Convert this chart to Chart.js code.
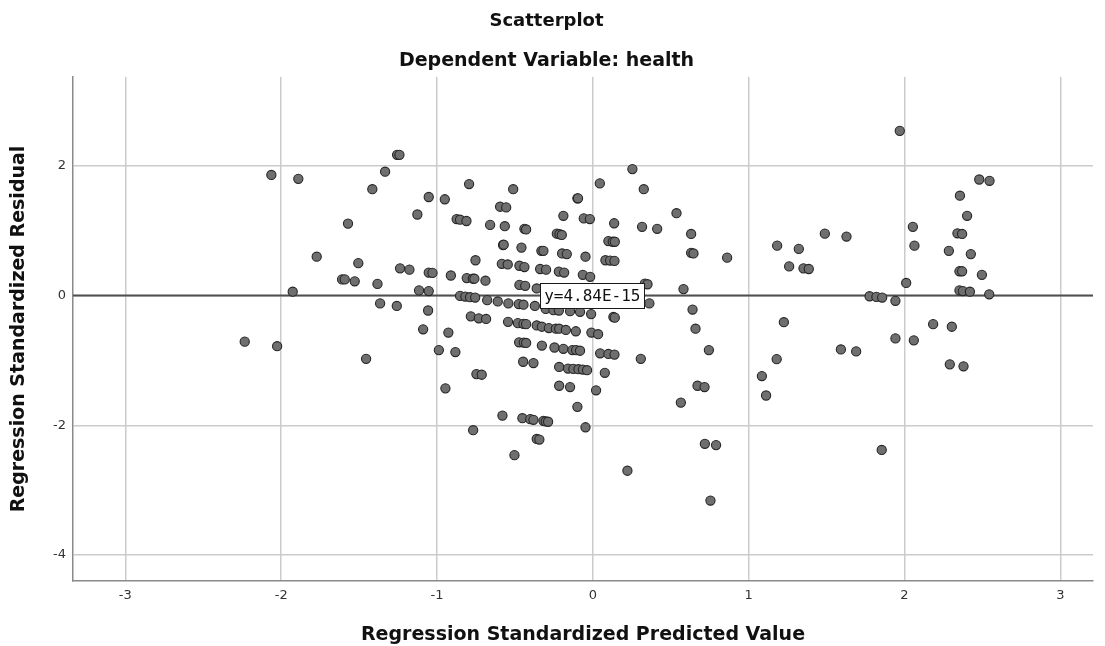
<!DOCTYPE html>
<html>
<head>
<meta charset="utf-8">
<script src="https://cdn.jsdelivr.net/npm/chart.js@4.4.1/dist/chart.umd.min.js"></script>
<style>
  html, body { margin: 0; padding: 0; background: #ffffff; }
  #wrap { width: 1105px; height: 646px; }
</style>
</head>
<body>
<div id="wrap"><canvas id="chart" width="1105" height="646"></canvas></div>
<script>
// Standardized predicted values (x) and standardized residuals (y), one entry per case
const predicted = [
  -2.063, -1.890, -1.415, -1.333, -1.256, -1.241, -1.571, -1.772, -1.505, -1.609,
  -1.592, -1.528, -1.382, -1.237, -1.177, -1.926, -1.365, -1.258, -2.234, -2.026,
  -1.455, -0.794, -0.511, -1.053, -0.950, -1.126, -0.595, -0.556, -0.099, -0.095,
   0.045, -0.874, -0.852, -0.811, -0.659, -0.565, -0.189, -0.058, -0.019, -0.439,
  -0.428, -0.231, -0.214, -0.199, -0.576, -0.572, -0.458, -0.330, -0.317, -0.197,
  -0.167, -0.047, -0.753, -1.053, -1.029, -0.911, -0.809, -0.770, -0.760, -0.689,
  -0.584, -0.546, -0.471, -0.439, -0.338, -0.300, -0.218, -0.184, -0.064, -0.017,
  -1.115, -1.053, -0.471, -0.434, -0.360,  0.254,  0.327,  0.137,  0.316,  0.413,
   0.537,  0.631,  0.100,  0.128,  0.141,  0.631,  0.646,  0.862,  1.183,  1.260,
   0.081,  0.111,  0.139,  0.334,  0.351,  0.582,  1.970,  2.480,  2.546,  2.356,
   2.402,  1.489,  1.628,  2.054,  2.340,  2.370,  2.064,  2.285,  2.426,  1.322,
   1.352,  1.386,  2.353,  2.370,  2.497,  2.011,  2.353,  2.375,  2.420,  2.544,
   1.776,  1.820,  1.857,  1.942,  1.226,  2.184,  2.304,  1.942,  2.060,  1.592,
   1.690,  2.291,  2.379,  1.180,  1.854,  0.363, -0.011,  0.132,  0.141,  0.640,
   0.659, -0.009,  0.034,  0.047,  0.100,  0.139,  0.308,  0.745,  1.085,  1.112,
   0.077,  0.021,  0.672,  0.717,  0.565,  0.719,  0.791,  0.222,  0.755, -0.099,
  -0.047, -0.503, -0.360, -0.343, -0.452, -0.402, -0.381, -0.317, -0.302, -0.287,
  -0.580, -0.768, -0.852, -0.818, -0.788, -0.755, -0.678, -0.610, -0.542, -0.475,
  -0.445, -0.372, -0.302, -0.253, -0.218, -0.146, -0.082, -1.057, -0.783, -0.732,
  -0.685, -0.544, -0.481, -0.445, -0.428, -0.360, -0.327, -0.282, -0.237, -0.216,
  -0.173, -0.109, -1.089, -0.927, -0.473, -0.443, -0.428, -0.327, -0.246, -0.189,
  -0.131, -0.107, -0.082, -0.988, -0.882, -0.447, -0.381, -0.216, -0.159, -0.125,
  -0.092, -0.064, -0.037, -0.747, -0.713, -0.946, -0.216, -0.146
];
const residual = [
   1.860,  1.800,  1.640,  1.910,  2.170,  2.170,  1.110,  0.600,  0.500,  0.250,
   0.250,  0.220,  0.180,  0.420,  0.400,  0.060, -0.120, -0.160, -0.710, -0.780,
  -0.975,  1.720,  1.640,  1.520,  1.485,  1.250,  1.370,  1.360,  1.500,  1.500,
   1.730,  1.180,  1.170,  1.150,  1.090,  1.070,  1.230,  1.190,  1.180,  1.030,
   1.020,  0.955,  0.946,  0.935,  0.780,  0.785,  0.740,  0.690,  0.690,  0.650,
   0.640,  0.600,  0.545,  0.355,  0.350,  0.310,  0.270,  0.260,  0.260,  0.230,
   0.490,  0.480,  0.460,  0.440,  0.410,  0.400,  0.370,  0.355,  0.320,  0.290,
   0.080,  0.070,  0.165,  0.150,  0.110,  1.950,  1.640,  1.115,  1.060,  1.030,
   1.270,  0.950,  0.840,  0.830,  0.830,  0.660,  0.650,  0.585,  0.770,  0.450,
   0.545,  0.540,  0.535,  0.185,  0.175,  0.100,  2.540,  1.790,  1.770,  1.540,
   1.230,  0.955,  0.910,  1.060,  0.960,  0.950,  0.770,  0.690,  0.640,  0.720,
   0.420,  0.410,  0.375,  0.375,  0.320,  0.195,  0.080,  0.070,  0.060,  0.020,
  -0.010, -0.020, -0.030, -0.080, -0.410, -0.440, -0.480, -0.660, -0.690, -0.830,
  -0.860, -1.060, -1.090, -0.980, -2.380, -0.120, -0.285, -0.330, -0.340, -0.215,
  -0.510, -0.570, -0.595, -0.890, -0.900, -0.910, -0.975, -0.840, -1.240, -1.540,
  -1.190, -1.460, -1.390, -1.410, -1.650, -2.285, -2.305, -2.700, -3.160, -1.715,
  -2.030, -2.460, -2.210, -2.220, -1.890, -1.905, -1.915, -1.930, -1.940, -1.945,
  -1.850, -2.075, -0.005, -0.015, -0.025, -0.030, -0.070, -0.090, -0.120, -0.130,
  -0.140, -0.160, -0.205, -0.225, -0.230, -0.240, -0.250, -0.230, -0.320, -0.350,
  -0.360, -0.405, -0.425, -0.435, -0.440, -0.460, -0.480, -0.500, -0.510, -0.510,
  -0.530, -0.550, -0.520, -0.570, -0.720, -0.725, -0.730, -0.770, -0.800, -0.820,
  -0.840, -0.840, -0.850, -0.840, -0.870, -1.020, -1.040, -1.100, -1.125, -1.130,
  -1.135, -1.140, -1.150, -1.210, -1.220, -1.430, -1.390, -1.410
];

// Axis tick values
const xTicks = [-3, -2, -1, 0, 1, 2, 3];
const yTicks = [-4, -2, 0, 2];

// Axis extents
const xRange = [-3.336, 3.21];
const yRange = [-4.40, 3.37];

// Fit line (intercept-only) and its label
const fitIntercept = 4.84e-15;
const fitLabel = 'y=4.84E-15';
const fitLabelAt = -0.338;

const points = predicted.map((x, i) => ({ x: x, y: residual[i] }));

// Boxed equation label sitting on the fit line
const fitLabelPlugin = {
  id: 'fitLabel',
  afterDatasetsDraw(chart) {
    const ctx = chart.ctx;
    const px = chart.scales.x.getPixelForValue(fitLabelAt);
    const py = chart.scales.y.getPixelForValue(fitIntercept);
    ctx.save();
    ctx.font = '16px "DejaVu Sans Mono"';
    const w = ctx.measureText(fitLabel).width + 8;
    const h = 25;
    ctx.fillStyle = '#ffffff';
    ctx.fillRect(Math.round(px) + 0.5, Math.round(py - h / 2) + 0.5, Math.round(w), h);
    ctx.strokeStyle = '#1a1a1a';
    ctx.lineWidth = 1;
    ctx.strokeRect(Math.round(px) + 0.5, Math.round(py - h / 2) + 0.5, Math.round(w), h);
    ctx.fillStyle = '#111111';
    ctx.textBaseline = 'middle';
    ctx.textAlign = 'left';
    ctx.fillText(fitLabel, px + 4, py + 1);
    ctx.restore();
  }
};

new Chart(document.getElementById('chart'), {
  data: {
    datasets: [
      {
        type: 'scatter',
        data: points,
        order: 0,
        pointRadius: 4.6,
        pointHoverRadius: 4.6,
        pointBackgroundColor: '#6f6f6f',
        pointBorderColor: '#262626',
        pointBorderWidth: 1.1
      },
      {
        type: 'line',
        data: [{ x: xRange[0], y: fitIntercept }, { x: xRange[1], y: fitIntercept }],
        order: 1,
        borderColor: '#4f4f4f',
        borderWidth: 2,
        pointRadius: 0,
        fill: false
      }
    ]
  },
  options: {
    responsive: false,
    devicePixelRatio: 1,
    animation: false,
    events: [],
    layout: { padding: { left: 0, right: 12, top: 0, bottom: 0 } },
    plugins: {
      legend: { display: false },
      tooltip: { enabled: false },
      title: {
        display: true,
        text: 'Scatterplot',
        color: '#111111',
        font: { family: 'DejaVu Sans', size: 18, weight: 'bold' },
        padding: { top: 11, bottom: 10 }
      },
      subtitle: {
        display: true,
        text: 'Dependent Variable: health',
        color: '#111111',
        font: { family: 'DejaVu Sans', size: 19, weight: 'bold' },
        padding: { top: 7, bottom: 4.6 }
      }
    },
    scales: {
      x: {
        type: 'linear',
        position: 'bottom',
        min: xRange[0],
        max: xRange[1],
        afterBuildTicks: (s) => { s.ticks = xTicks.map(v => ({ value: v })); },
        afterFit: (s) => { s.height = 65; },
        ticks: {
          color: '#333333',
          font: { family: 'DejaVu Sans', size: 13 },
          padding: 7,
          maxRotation: 0,
          autoSkip: false
        },
        grid: { color: '#cbcbcb', lineWidth: 1.5, drawTicks: false },
        border: { display: true, color: '#8a8a8a', width: 1.5 },
        title: {
          display: true,
          text: 'Regression Standardized Predicted Value',
          color: '#111111',
          font: { family: 'DejaVu Sans', size: 19, weight: 'bold' },
          padding: { top: 0, bottom: 0 }
        }
      },
      y: {
        type: 'linear',
        position: 'left',
        min: yRange[0],
        max: yRange[1],
        afterBuildTicks: (s) => { s.ticks = yTicks.map(v => ({ value: v })); },
        afterFit: (s) => { s.width = 73; },
        ticks: {
          color: '#333333',
          font: { family: 'DejaVu Sans', size: 13 },
          padding: 7
        },
        grid: { color: '#cbcbcb', lineWidth: 1.5, drawTicks: false },
        border: { display: true, color: '#8a8a8a', width: 1.5 },
        title: {
          display: true,
          text: 'Regression Standardized Residual',
          color: '#111111',
          font: { family: 'DejaVu Sans', size: 19, weight: 'bold' },
          padding: { top: 8, bottom: 0 }
        }
      }
    }
  },
  plugins: [fitLabelPlugin]
});
</script>
</body>
</html>
